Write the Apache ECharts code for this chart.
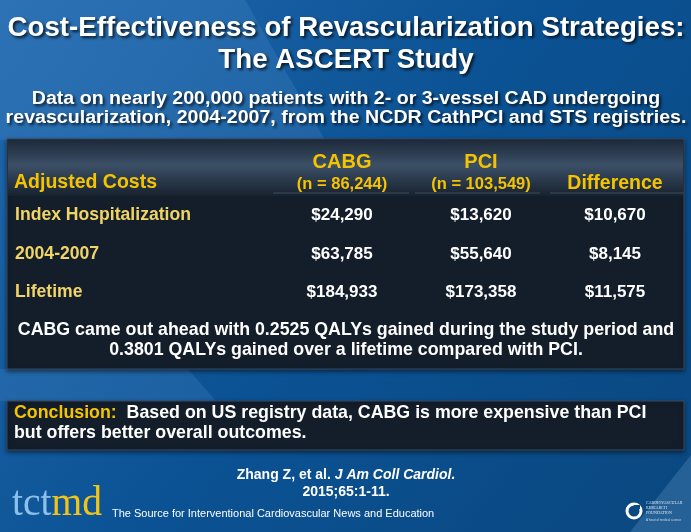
<!DOCTYPE html>
<html><head><meta charset="utf-8">
<script src="https://cdn.jsdelivr.net/npm/echarts@6/dist/echarts.min.js"></script>
<style>html,body{margin:0;padding:0;background:#0b5294}#c{width:691px;height:532px}</style>
</head><body><div id="c"></div>
<script>
var titleLines = ['Cost-Effectiveness of Revascularization Strategies:', 'The ASCERT Study'];
var subtitleLines = ['Data on nearly 200,000 patients with 2- or 3-vessel CAD undergoing', 'revascularization, 2004-2007, from the NCDR CathPCI and STS registries.'];
var headerLabel = 'Adjusted Costs';
var columnNames = ['CABG', 'PCI', ''];
var columnSubs = ['(n = 86,244)', '(n = 103,549)', 'Difference'];
var rowLabels = ['Index Hospitalization', '2004-2007', 'Lifetime'];
var cabgCosts = ['$24,290', '$63,785', '$184,933'];
var pciCosts = ['$13,620', '$55,640', '$173,358'];
var diffCosts = ['$10,670', '$8,145', '$11,575'];
var qalyLines = ['CABG came out ahead with 0.2525 QALYs gained during the study period and', '0.3801 QALYs gained over a lifetime compared with PCI.'];
var conclusionLead = 'Conclusion:';
var conclusionLines = ['Based on US registry data, CABG is more expensive than PCI', 'but offers better overall outcomes.'];
var citationLines = ['Zhang Z, et al. ', 'J Am Coll Cardiol.', '2015;65:1-11.'];
var footerText = 'The Source for Interventional Cardiovascular News and Education';

var FONT = '"Liberation Sans", Arial, sans-serif';
var YEL = '#f5c400';
var YEL2 = '#f0d566';
var colX = [342, 481, 615];
var rowY = [215, 254, 292];

var chart = echarts.init(document.getElementById('c'), null, {renderer: 'canvas'});
var g = [];
function txt(x, y, s, size, color, align, extra, sx) {
  var st = {x: 0, y: 0, text: s, fill: color, font: 'bold ' + size + 'px ' + FONT, align: align || 'center', verticalAlign: 'middle'};
  if (extra) for (var k in extra) st[k] = extra[k];
  g.push({type: 'text', x: x, y: y, scaleX: sx || 1, style: st, z: 10});
}
// background
g.push({type: 'rect', shape: {x: 0, y: 0, width: 691, height: 532}, style: {fill: new echarts.graphic.LinearGradient(0, 0, 1, 1, [{offset: 0, color: '#2068ad'}, {offset: 0.5, color: '#0b5294'}, {offset: 1, color: '#0a477f'}])}, z: 0});
g.push({type: 'polygon', shape: {points: [[0, 0], [245, 0], [325, 140], [0, 140]]}, style: {fill: 'rgba(90,150,210,0.22)'}, z: 1});
g.push({type: 'polygon', shape: {points: [[0, 369], [188, 369], [216, 401], [0, 401]]}, style: {fill: 'rgba(90,150,210,0.2)'}, z: 1});
g.push({type: 'polygon', shape: {points: [[691, 455], [691, 532], [630, 532]]}, style: {fill: 'rgba(120,170,220,0.25)'}, z: 1});
// title
var shadow = {textShadowColor: 'rgba(0,0,0,0.75)', textShadowBlur: 3, textShadowOffsetX: 2, textShadowOffsetY: 2};
txt(346, 28, titleLines[0], 27.7, '#ffffff', 'center', shadow);
txt(346, 60, titleLines[1], 27.7, '#ffffff', 'center', shadow);
txt(346, 99, subtitleLines[0], 17.5, '#ffffff', 'center', shadow, 1.12);
txt(346, 118, subtitleLines[1], 17.5, '#ffffff', 'center', shadow, 1.12);
// table box
g.push({type: 'rect', shape: {x: 7, y: 139, width: 677, height: 230}, style: {fill: '#141e2b', stroke: '#3a4a5c', lineWidth: 1, shadowColor: 'rgba(0,0,0,0.5)', shadowBlur: 4, shadowOffsetY: 2}, z: 2});
g.push({type: 'rect', shape: {x: 8, y: 140, width: 675, height: 56}, style: {fill: new echarts.graphic.LinearGradient(0, 0, 0, 1, [{offset: 0, color: '#1d2a3a'}, {offset: 0.45, color: '#3b4f66'}, {offset: 1, color: '#18222f'}])}, z: 3});
// header
txt(14, 183, headerLabel, 19.5, YEL, 'left');
for (var i = 0; i < 3; i++) {
  if (columnNames[i]) txt(colX[i], 162, columnNames[i], 20, YEL);
  txt(colX[i], 184, columnSubs[i], i === 2 ? 19.5 : 16.5, YEL);
}
[[273, 409], [415, 540], [550, 684]].forEach(function (s) {
  g.push({type: 'line', shape: {x1: s[0], y1: 193, x2: s[1], y2: 193}, style: {stroke: '#3c4c60', lineWidth: 1}, z: 4});
});
// rows
var cols = [cabgCosts, pciCosts, diffCosts];
for (var r = 0; r < rowLabels.length; r++) {
  txt(15, rowY[r], rowLabels[r], 17.6, YEL2, 'left');
  for (var c = 0; c < 3; c++) txt(colX[c], rowY[r], cols[c][r], 17, '#ffffff');
}
txt(346, 330, qalyLines[0], 17.8, '#ffffff');
txt(346, 350, qalyLines[1], 17.8, '#ffffff');
// conclusion box
g.push({type: 'rect', shape: {x: 7, y: 401, width: 677, height: 49}, style: {fill: '#141e2b', stroke: '#3a4a5c', lineWidth: 1, shadowColor: 'rgba(0,0,0,0.5)', shadowBlur: 4, shadowOffsetY: 2}, z: 2});
g.push({type: 'text', x: 14, y: 413, style: {x: 0, y: 0, text: '{y|' + conclusionLead + '}{w|  ' + conclusionLines[0] + '}', verticalAlign: 'middle', rich: {y: {fill: YEL, font: 'bold 17.8px ' + FONT}, w: {fill: '#ffffff', font: 'bold 17.8px ' + FONT}}}, z: 10});
txt(14, 433, conclusionLines[1], 17.8, '#ffffff', 'left');
// citation
g.push({type: 'text', x: 346, y: 475, style: {x: 0, y: 0, align: 'center', verticalAlign: 'middle', text: '{n|' + citationLines[0] + '}{i|' + citationLines[1] + '}', rich: {n: {fill: '#fff', font: 'bold 14px ' + FONT}, i: {fill: '#fff', font: 'italic bold 14px ' + FONT}}}, z: 10});
txt(346, 492, citationLines[2], 14, '#ffffff');
// footer logo
g.push({type: 'text', x: 12, y: 504, scaleX: 0.94, style: {x: 0, y: 0, verticalAlign: 'middle', text: '{a|tct}{b|md}', rich: {a: {fill: '#8cc0ea', font: '42px "Liberation Serif", "DejaVu Serif", serif'}, b: {fill: '#f0c419', font: '42px "Liberation Serif", "DejaVu Serif", serif'}}}, z: 10});
g.push({type: 'text', x: 112, y: 514, style: {x: 0, y: 0, verticalAlign: 'middle', text: footerText, fill: '#ffffff', font: '11px ' + FONT}, z: 10});
// CRF logo
g.push({type: 'circle', shape: {cx: 634, cy: 511, r: 7}, style: {fill: 'none', stroke: '#ffffff', lineWidth: 3}, z: 10});
g.push({type: 'rect', shape: {x: 634, y: 505, width: 6, height: 4}, style: {fill: '#0b4a86'}, z: 11});
['CARDIOVASCULAR', 'RESEARCH', 'FOUNDATION'].forEach(function (s, k) {
  g.push({type: 'text', style: {x: 646, y: 503 + k * 5, text: s, fill: '#dfe8f2', font: '4px "Liberation Serif", serif', verticalAlign: 'middle'}, z: 10});
});
g.push({type: 'text', style: {x: 646, y: 520, text: 'A heart of medical science', fill: '#c9d6e4', font: '3px ' + FONT, verticalAlign: 'middle'}, z: 10});

chart.setOption({animation: false, graphic: {elements: g}});
</script>
</body></html>
